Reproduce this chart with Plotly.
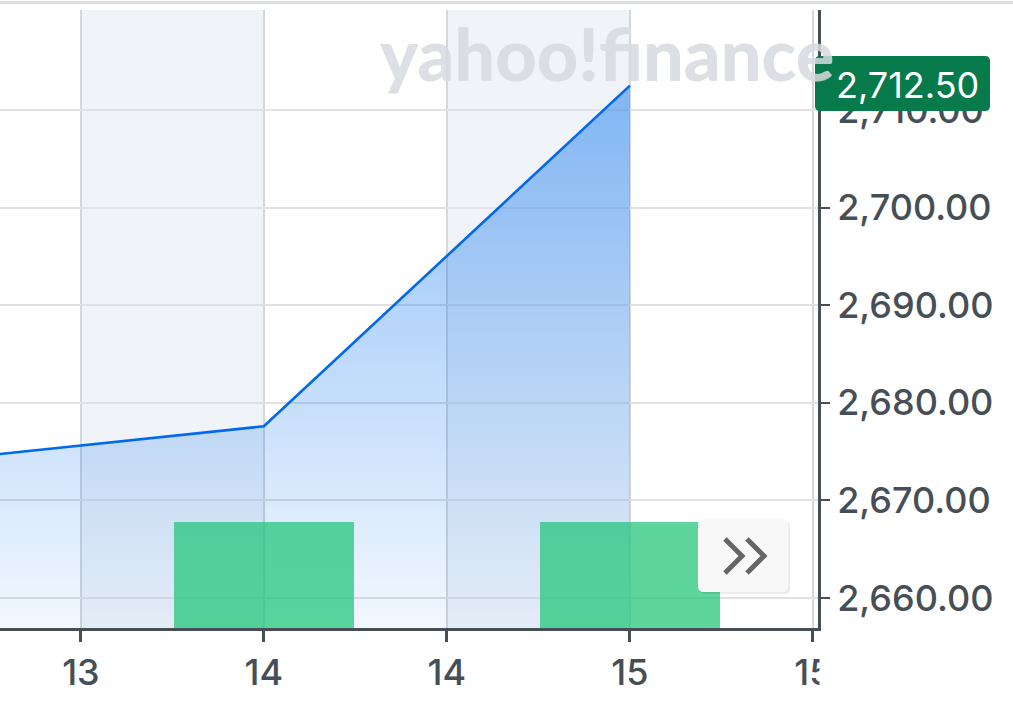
import plotly.graph_objects as go

# ---------------- data ----------------
x_pos = [-1, 0, 1]                     # trading sessions (index)
close = [2673.65, 2677.6, 2712.5]      # close prices
volume = [1850, 1850, 1850]            # session volumes
tick_vals = [-0.5, 0, 0.5, 1, 1.5]
tick_text = ["13", "14", "14", "15", "15"]
y_ticks = [2660, 2670, 2680, 2690, 2700, 2710]
last_price = 2712.5
band_spans = [(-0.5, 0), (0.5, 1)]

# ---------------- geometry helpers (pixel -> paper) ----------------
W, H = 1013, 708
PL, PR, PT, PB = 0, 818, 10, 628


def fx(px):
    return (px - PL) / (PR - PL)


def fy(py):
    return (PB - py) / (PB - PT)


def rrect(x0, y0, x1, y1, r):
    pts = [
        f"M {fx(x0 + r)},{fy(y0)}",
        f"L {fx(x1 - r)},{fy(y0)}",
        f"Q {fx(x1)},{fy(y0)} {fx(x1)},{fy(y0 + r)}",
        f"L {fx(x1)},{fy(y1 - r)}",
        f"Q {fx(x1)},{fy(y1)} {fx(x1 - r)},{fy(y1)}",
        f"L {fx(x0 + r)},{fy(y1)}",
        f"Q {fx(x0)},{fy(y1)} {fx(x0)},{fy(y1 - r)}",
        f"L {fx(x0)},{fy(y0 + r)}",
        f"Q {fx(x0)},{fy(y0)} {fx(x0 + r)},{fy(y0)}",
        "Z",
    ]
    return " ".join(pts)


AX = "#464e56"
FONT = "Inter"

fig = go.Figure()

fig.add_trace(go.Scatter(
    x=x_pos, y=close, mode="lines",
    line=dict(color="#0068ee", width=2.6),
    fill="tozeroy",
    fillgradient=dict(
        type="vertical",
        start=2657, stop=2712.5,
        colorscale=[[0, "rgba(0,110,240,0.05)"], [1, "rgba(0,110,240,0.46)"]],
    ),
    hoverinfo="skip", showlegend=False,
))

fig.add_trace(go.Bar(
    x=x_pos, y=volume, width=0.49, yaxis="y2",
    marker=dict(color="rgba(30,197,119,0.72)", line=dict(width=0)),
    hoverinfo="skip", showlegend=False,
))

shapes = []
for a, b in band_spans:
    shapes.append(dict(type="rect", xref="x", yref="paper", x0=a, x1=b, y0=0, y1=1,
                       fillcolor="#f0f3f7", line=dict(width=0), layer="below"))

# top border line of the page
shapes.append(dict(type="line", xref="paper", yref="paper", x0=fx(0), x1=fx(W),
                   y0=fy(2.5), y1=fy(2.5), line=dict(color="#dcdee2", width=3), layer="above"))

# clip the last x label at the axis edge
shapes.append(dict(type="rect", xref="paper", yref="paper", x0=fx(819.5), x1=fx(850),
                   y0=fy(645), y1=fy(705), fillcolor="white", line=dict(width=0), layer="above"))

# button shadow + body
shapes.append(dict(type="path", xref="paper", yref="paper", path=rrect(699, 521, 790, 594, 6),
                   fillcolor="rgba(0,0,0,0.08)", line=dict(width=0), layer="above"))
shapes.append(dict(type="path", xref="paper", yref="paper", path=rrect(698, 519, 788, 592, 6),
                   fillcolor="#f8f8f8", line=dict(width=0), layer="above"))
for dx in (0, 22):
    shapes.append(dict(type="path", xref="paper", yref="paper",
                       path=f"M {fx(725 + dx)},{fy(539)} L {fx(742 + dx)},{fy(556)} L {fx(725 + dx)},{fy(573)}",
                       line=dict(color="#666666", width=5), layer="above"))

# price label box
shapes.append(dict(type="path", xref="paper", yref="paper", path=rrect(815, 56, 990, 111, 5),
                   fillcolor="#077a4b", line=dict(width=0), layer="above"))

annotations = [
    dict(text="yahoo!finance", xref="paper", yref="paper", x=fx(607), y=fy(53),
         xanchor="center", yanchor="middle", showarrow=False,
         font=dict(family="Lato", size=72, color="rgba(214,217,223,0.85)", weight=900)),
    dict(text=f"{last_price:,.2f}", xref="paper", yref="paper", x=fx(908), y=fy(85),
         xanchor="center", yanchor="middle", showarrow=False,
         font=dict(family=FONT, size=36, color="white")),
]

fig.update_layout(
    width=W, height=H,
    margin=dict(l=PL, r=W - PR, t=PT, b=H - PB),
    paper_bgcolor="white", plot_bgcolor="white",
    shapes=shapes, annotations=annotations,
    xaxis=dict(
        range=[-0.721, 1.514], tickvals=tick_vals, ticktext=tick_text,
        showgrid=True, gridcolor="#d3d6db", gridwidth=2,
        showline=True, linecolor=AX, linewidth=3,
        ticks="outside", ticklen=11, tickwidth=3, tickcolor=AX,
        tickfont=dict(family=FONT, size=36, color=AX, weight=500),
        zeroline=False, fixedrange=True,
    ),
    yaxis=dict(
        range=[2656.93, 2720.25], side="right", tickvals=y_ticks,
        tickformat=",.2f",
        showgrid=True, gridcolor="#e0e1e3", gridwidth=2,
        showline=True, linecolor=AX, linewidth=3,
        ticks="outside", ticklen=9, tickwidth=2, tickcolor=AX,
        tickfont=dict(family=FONT, size=36, color=AX, weight=500),
        zeroline=False, fixedrange=True,
    ),
    yaxis2=dict(
        overlaying="y", range=[0, 1850 * 618 / 106], visible=False, fixedrange=True,
    ),
    bargap=0,
)

fig.write_html("out.html", config={"displayModeBar": False},
               post_script="document.body.style.margin='0';")
